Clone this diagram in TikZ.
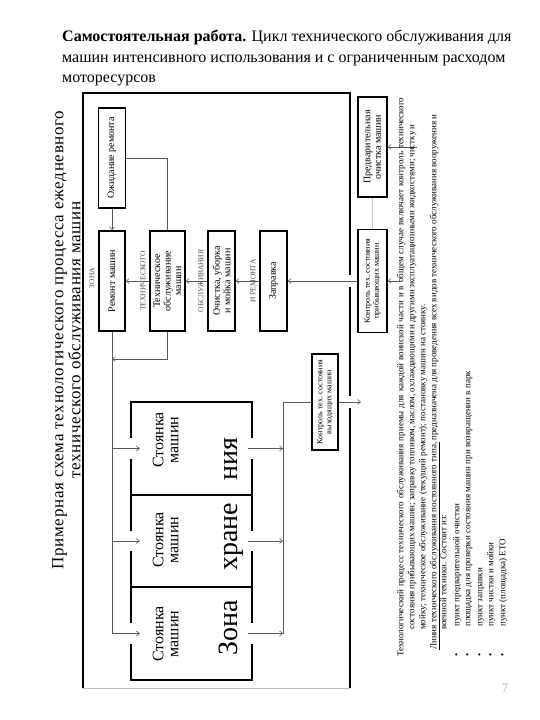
\documentclass[tikz,border=0pt]{standalone}
\usepackage{fontspec}
\setmainfont{Liberation Serif}
\newfontfamily\capfont[LetterSpace=4]{Liberation Serif}
\usetikzlibrary{arrows.meta}

\begin{document}
\begin{tikzpicture}[x=1pt, y=-1pt,
  box/.style={draw, line width=1.5pt, rotate=90, align=center, inner sep=1pt, font=\fontsize{10}{10.5}\selectfont},
  smallbox/.style={box, font=\fontsize{8}{9}\selectfont},
  zonelbl/.style={rotate=90, inner sep=0pt, font=\fontsize{7.5}{8}\selectfont, text=gray!60!black},
  conn/.style={draw=gray!70!black, line width=0.6pt},
  arr/.style={conn, -{Straight Barb[length=3pt,width=5pt]}},
  wall/.style={line width=2pt},
  txt/.style={rotate=90, anchor=mid west, inner sep=0pt, font=\fontsize{9}{11}\selectfont},
  parkcell/.style={minimum width=121pt, minimum height=93pt, inner sep=0pt},
  parktxt/.style={rotate=90, anchor=mid, align=center, font=\fontsize{16}{15}\selectfont},
  bigtxt/.style={rotate=90, anchor=mid, inner sep=0pt, font=\fontsize{28}{28}\selectfont}]
  \fill[white] (0,0) rectangle (540,720);
  \useasboundingbox (0,0) rectangle (540,720);

  \node[anchor=base west, inner sep=0pt, font=\fontsize{16}{20}\selectfont] (title1) at (62,41) {\textbf{Самостоятельная работа.} Цикл технического обслуживания для};
  \node[anchor=base west, inner sep=0pt, font=\fontsize{16}{20}\selectfont] (title2) at (62,62) {машин интенсивного использования и с ограниченным расходом};
  \node[anchor=base west, inner sep=0pt, font=\fontsize{16}{20}\selectfont] (title3) at (62,82) {моторесурсов};

  \node[rotate=90, anchor=mid, inner sep=0pt, font=\capfont\fontsize{17}{18}\selectfont] (cap1) at (61,340) {Примерная схема технологического процесса ежедневного};
  \node[rotate=90, anchor=mid, inner sep=0pt, font=\capfont\fontsize{17}{18}\selectfont] (cap2) at (78,340) {технического обслуживания машин};

  \draw[wall] (83,688) -- (83,93) -- (350,93) -- (350,275);
  \draw[wall] (350,287) -- (350,396);
  \draw[wall] (350,408) -- (350,688);
  \draw[gray!50, line width=0.5pt] (83,688) -- (350,688);

  \node[box, minimum width=100pt, minimum height=27pt] (wait) at (112,158) {Ожидание ремонта};
  \node[box, minimum width=100pt, minimum height=26pt] (repair) at (112,281) {Ремонт машин};
  \node[box, minimum width=100pt, minimum height=35pt] (service) at (167.5,281) {Техническое\\обслуживание\\машин};
  \node[box, minimum width=100pt, minimum height=27pt] (wash) at (221.5,281) {Очистка, уборка\\и мойка машин};
  \node[box, minimum width=100pt, minimum height=27pt] (fuel) at (273.5,281) {Заправка};
  \node[smallbox, minimum width=96pt, minimum height=26pt] (ctrlout) at (325,402) {Контроль тех. состояния\\выходящих машин};
  \node[box, minimum width=100pt, minimum height=29pt] (preclean) at (372.5,147) {Предварительная\\очистка машин};
  \node[smallbox, minimum width=103pt, minimum height=29pt] (ctrlin) at (372.5,281) {Контроль тех. состояния\\прибывающих машин};

  \node[zonelbl] (zl1) at (92,278) {ЗОНА};
  \node[zonelbl] (zl2) at (143,281) {ТЕХНИЧЕСКОГО};
  \node[zonelbl] (zl3) at (201,281) {ОБСЛУЖИВАНИЯ};
  \node[zonelbl] (zl4) at (253,281) {И РЕМОНТА};

  \draw[arr] (wait.west) -- (repair.east);
  \draw[conn] (service.east) |- (wait.south);
  \draw[arr] (ctrlin.north) -- (fuel.south);
  \draw[arr] (fuel.north) -- (wash.south);
  \draw[arr] (wash.north) -- (service.south);
  \draw[arr] (service.north) -- (repair.south);
  \coordinate (inpre) at (417,147);
  \coordinate (inctrl) at (400,281);
  \draw[arr] (inpre) -- (preclean.south);
  \draw[arr] (inctrl) -- (ctrlin.south);
  \draw[conn, draw=gray!45] (preclean.west) -- (ctrlin.east);

  \node[parkcell] (park1) at (191.5,448.5) {};
  \node[parkcell] (park2) at (191.5,541) {};
  \node[parkcell] (park3) at (191.5,633.5) {};
  \draw[wall] (131,438) -- (131,402) -- (252,402) -- (252,438);
  \draw[wall] (131,459) -- (131,531) (131,551) -- (131,623);
  \draw[wall] (252,459) -- (252,531) (252,551) -- (252,623);
  \draw[wall] (131,644) -- (131,680) -- (252,680) -- (252,644);
  \draw[wall] (131,495) -- (252,495) (131,587) -- (252,587);
  \node[parktxt] (stand1) at (176,440) {Стоянка\\машин};
  \node[parktxt] (stand2) at (176,540) {Стоянка\\машин};
  \node[parktxt] (stand3) at (176,634) {Стоянка\\машин};
  \node[bigtxt] (zone1) at (235,628) {Зона};
  \node[bigtxt] (zone2) at (235,537) {хране};
  \node[bigtxt] (zone3) at (235,459) {ния};

  \coordinate (lbus) at (112,633.5);
  \coordinate (rbus) at (283,633.5);
  \coordinate (join) at (112,359);
  \coordinate (exitpt) at (361,402);
  \draw[conn] (repair.west) -- (lbus);
  \draw[arr] (service.west) |- (join);
  \foreach \p in {park1,park2,park3} {
    \draw[arr] (lbus |- \p) -- ([xshift=9pt]\p.west);
    \draw[arr] ([xshift=-4pt]\p.east) -- (rbus |- \p);
  }
  \draw[conn] (rbus) |- (ctrlout.north);
  \draw[arr] (ctrlout.south) -- (exitpt);

  \node[txt] (para1) at (401,657) {\makebox[559pt][s]{Технологический процесс технического обслуживания приемы для каждой воинской части и в общем случае включает контроль технического}};
  \node[txt] (para2) at (412,630) {\makebox[505pt][s]{состояния прибывающих машин; заправку топливом, маслом, охлаждающими и другими эксплуатационными жидкостями; чистку и}};
  \node[txt] (para3) at (423,630) {мойку; техническое обслуживание (текущий ремонт); постановку машин на стоянку.};
  \node[txt] (para4) at (434,650) {\makebox[535pt][s]{\underline{Линия технического обслуживания постоянного типа,} предназначена для проведения всех видов технического обслуживания вооружения и}};
  \node[txt] (para5) at (444,630) {военной техники. Состоит из:};
  \foreach \x/\t [count=\i] in {457/пункт предварительной очистки, 468/площадка для проверки состояния машин при возвращении в парк, 480/пункт заправки, 491/пункт чистки и мойки, 503/пункт (площадка) ЕТО} {
    \node[txt] (dot\i) at (\x,657) {•};
    \node[txt] (item\i) at (\x,627) {\t};
  }

  \node[text=gray!60, font=\fontsize{13}{13}\selectfont] (pagenum) at (505,688) {7};
\end{tikzpicture}
\end{document}
